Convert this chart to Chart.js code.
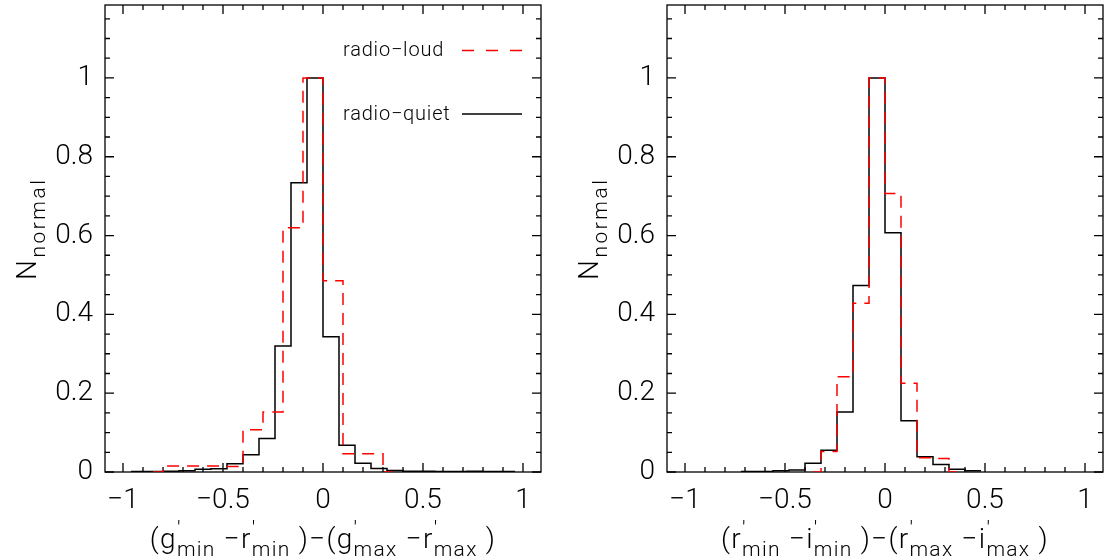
<!DOCTYPE html>
<html>
<head>
<meta charset="utf-8">
<script src="https://cdn.jsdelivr.net/npm/chart.js@4.4.1/dist/chart.umd.min.js"></script>
<style>
  html, body { margin: 0; padding: 0; background: #fff; }
  #wrap { position: relative; width: 1104px; height: 560px; }
  canvas { position: absolute; top: 0; }
  #left { left: 0; }
  #right { left: 552px; }
</style>
</head>
<body>
<div id="wrap">
  <canvas id="left" width="552" height="560"></canvas>
  <canvas id="right" width="552" height="560"></canvas>
</div>
<script>
// tick labels
const xTickValues = [-1, -0.5, 0, 0.5, 1]
const yTickValues = [0, 0.2, 0.4, 0.6, 0.8, 1]

// (g-r) panel, radio-quiet: bin edges and heights
const grQuietEdges = [-0.96, -0.88, -0.80, -0.72, -0.64, -0.56, -0.48, -0.40, -0.32, -0.24, -0.16, -0.08, 0,
                      0.08, 0.16, 0.24, 0.32, 0.40, 0.48, 0.56, 0.64, 0.72, 0.80, 0.88, 0.96]
const grQuietValues = [0.001, 0.001, 0.002, 0.003, 0.007, 0.008, 0.021, 0.044, 0.085, 0.32, 0.734, 1.0,
                       0.343, 0.068, 0.022, 0.009, 0.004, 0.002, 0.002, 0.001, 0.001, 0.002, 0.001, 0.001]

// (g-r) panel, radio-loud
const grLoudEdges = [-0.85, -0.8, -0.7, -0.6, -0.5, -0.4, -0.3, -0.2, -0.1, 0, 0.1, 0.2, 0.3, 0.35]
const grLoudValues = [0, 0.015, 0.015, 0.015, 0.014, 0.107, 0.152, 0.62, 1.0, 0.485, 0.046, 0.046, 0]

// (r-i) panel, radio-quiet
const riQuietEdges = [-0.72, -0.64, -0.56, -0.48, -0.40, -0.32, -0.24, -0.16, -0.08, 0,
                      0.08, 0.16, 0.24, 0.32, 0.40, 0.48]
const riQuietValues = [0.001, 0.001, 0.003, 0.005, 0.022, 0.055, 0.152, 0.473, 1.0,
                       0.607, 0.130, 0.039, 0.019, 0.007, 0.003]

// (r-i) panel, radio-loud
const riLoudEdges = [-0.36, -0.32, -0.24, -0.16, -0.08, 0, 0.08, 0.16, 0.24, 0.32, 0.36]
const riLoudValues = [0, 0.052, 0.242, 0.428, 1.0, 0.707, 0.225, 0.036, 0.034, 0]

const FONT = 'Roboto'
const MAIN = 28
const SUB = 21

const fontStr = function(size){
    return '300 ' + size + 'px ' + FONT
}

const tickText = function(v){
    if (v < 0) return '\u2212' + Math.abs(v)
    return String(v)
}

// step line points: each edge gets the height of the bin to its right
const stepData = function(edges, values){
    return edges.map((e, i) => ({x: e, y: values[Math.min(i, values.length - 1)]}))
}

// text with sub / superscripts
const drawRich = function(ctx, parts, x, y, angle, align, spacing){
    ctx.save()
    ctx.translate(x, y)
    ctx.rotate(angle)
    ctx.fillStyle = '#000'
    ctx.textBaseline = 'alphabetic'
    ctx.textAlign = 'left'
    ctx.letterSpacing = spacing + 'px'
    let total = 0
    parts.forEach(p => {
        ctx.font = fontStr(p.s)
        p.w = p.na ? 0 : ctx.measureText(p.t).width
        total += p.w
    })
    let cx = align === 'center' ? -total / 2 : 0
    parts.forEach(p => {
        ctx.font = fontStr(p.s)
        ctx.fillText(p.t, cx, p.dy || 0)
        cx += p.w
    })
    ctx.restore()
}

const prime = {t: '\u2032', s: SUB, dy: -13, na: true}
const sub = function(t){ return {t: t, s: SUB, dy: 8} }
const main = function(t){ return {t: t, s: MAIN} }

const grTitle = [main('(g'), prime, sub('min'), main(' \u2212r'), prime, sub('min'),
                 main(' )\u2212(g'), prime, sub('max'), main(' \u2212r'), prime, sub('max'), main(' )')]
const riTitle = [main('(r'), prime, sub('min'), main(' \u2212i'), prime, sub('min'),
                 main(' )\u2212(r'), prime, sub('max'), main(' \u2212i'), prime, sub('max'), main(' )')]
const yTitle = [main('N'), {t: 'normal', s: SUB, dy: 9}]

// IDL style box with inward ticks, titles and legend
const idlFrame = {
    id: 'idlFrame',
    beforeDatasetsDraw(chart, args, opts){
        const ctx = chart.ctx
        const a = chart.chartArea
        const xs = chart.scales.x
        const ys = chart.scales.y
        ctx.save()
        ctx.strokeStyle = '#000'
        ctx.lineWidth = 1.3
        ctx.strokeRect(a.left, a.top, a.right - a.left, a.bottom - a.top)
        ctx.beginPath()
        for (let i = -10; i <= 10; i++){
            const px = xs.getPixelForValue(i / 10)
            const len = i % 5 === 0 ? 9 : 5
            ctx.moveTo(px, a.bottom)
            ctx.lineTo(px, a.bottom - len)
            ctx.moveTo(px, a.top)
            ctx.lineTo(px, a.top + len)
        }
        for (let i = 0; i <= 23; i++){
            const v = i * 0.05
            if (v > ys.max) break
            const py = ys.getPixelForValue(v)
            const len = i % 4 === 0 ? 9 : 5
            ctx.moveTo(a.left, py)
            ctx.lineTo(a.left + len, py)
            ctx.moveTo(a.right, py)
            ctx.lineTo(a.right - len, py)
        }
        ctx.stroke()
        ctx.restore()
    },
    afterDraw(chart, args, opts){
        const ctx = chart.ctx
        const a = chart.chartArea
        drawRich(ctx, opts.xTitle, (a.left + a.right) / 2, 548, 0, 'center', 1.3)
        drawRich(ctx, yTitle, a.left - 69, 280, -Math.PI / 2, 'left', 2.5)
        if (opts.legend){
            ctx.save()
            ctx.font = fontStr(20)
            ctx.fillStyle = '#000'
            ctx.letterSpacing = '0.8px'
            ctx.fillText('radio\u2212loud', 343, 56)
            ctx.fillText('radio\u2212quiet', 343, 120)
            ctx.lineWidth = 1.5
            ctx.strokeStyle = 'rgb(255, 0, 0)'
            ctx.setLineDash([12, 12])
            ctx.beginPath()
            ctx.moveTo(462, 50.5)
            ctx.lineTo(522, 50.5)
            ctx.stroke()
            ctx.setLineDash([])
            ctx.strokeStyle = '#000'
            ctx.beginPath()
            ctx.moveTo(462, 114)
            ctx.lineTo(522, 114)
            ctx.stroke()
            ctx.restore()
        }
    }
}

const makeChart = function(canvasId, quietEdges, quietValues, loudEdges, loudValues, axisWidth, padRight, title, legend){
    const canvas = document.querySelector(canvasId)

    const data = {
        datasets: [{
            label: 'radio-loud',
            data: stepData(loudEdges, loudValues),
            borderColor: 'rgb(255, 0, 0)',
            borderWidth: 1.5,
            borderDash: [12, 8],
            stepped: 'before',
            pointRadius: 0,
            fill: false
        }, {
            label: 'radio-quiet',
            data: stepData(quietEdges, quietValues),
            borderColor: '#000',
            borderWidth: 1.5,
            stepped: 'before',
            pointRadius: 0,
            fill: false
        }]
    }

    const tickFont = {family: FONT, size: MAIN, weight: '300'}

    const config = {
        type: 'line',
        data: data,
        options: {
            responsive: false,
            animation: false,
            events: [],
            layout: {padding: {left: 0, right: padRight, top: 5, bottom: 0}},
            plugins: {
                legend: {display: false},
                tooltip: {enabled: false},
                idlFrame: {xTitle: title, legend: legend}
            },
            scales: {
                x: {
                    type: 'linear',
                    min: -1.09,
                    max: 1.09,
                    grid: {display: false, drawTicks: false},
                    border: {display: false},
                    afterBuildTicks: s => { s.ticks = xTickValues.map(v => ({value: v})) },
                    afterFit: s => { s.height = 88; s.paddingLeft = 0; s.paddingRight = 0 },
                    ticks: {
                        font: tickFont,
                        color: '#000',
                        padding: 12,
                        maxRotation: 0,
                        autoSkip: false,
                        callback: v => tickText(v)
                    }
                },
                y: {
                    type: 'linear',
                    min: 0,
                    max: 1.185,
                    grid: {display: false, drawTicks: false},
                    border: {display: false},
                    afterBuildTicks: s => { s.ticks = yTickValues.map(v => ({value: v})) },
                    afterFit: s => { s.width = axisWidth; s.paddingTop = 0; s.paddingBottom = 0 },
                    ticks: {
                        font: tickFont,
                        color: '#000',
                        padding: 12,
                        autoSkip: false,
                        callback: v => tickText(v)
                    }
                }
            }
        },
        plugins: [idlFrame]
    }

    return new Chart(canvas, config)
}

makeChart('#left', grQuietEdges, grQuietValues, grLoudEdges, grLoudValues, 105, 11, grTitle, true)
makeChart('#right', riQuietEdges, riQuietValues, riLoudEdges, riLoudValues, 115, 1, riTitle, false)
</script>
</body>
</html>
